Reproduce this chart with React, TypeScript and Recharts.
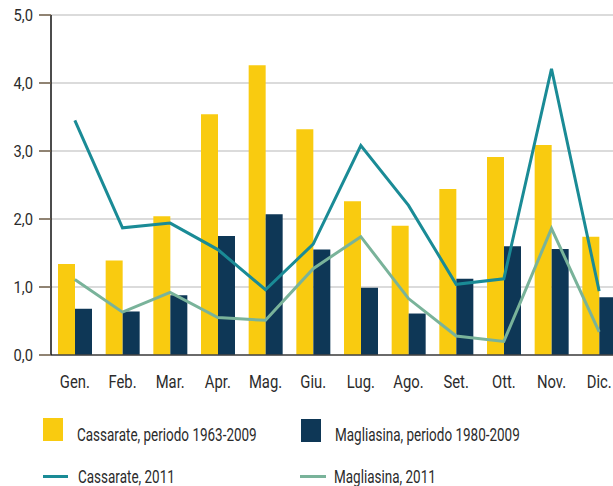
import React from "react";
import { ComposedChart, Bar, Line, XAxis, YAxis, CartesianGrid } from "recharts";

const months = ["Gen.", "Feb.", "Mar.", "Apr.", "Mag.", "Giu.", "Lug.", "Ago.", "Set.", "Ott.", "Nov.", "Dic."];
const cassarateAvg = [1.34, 1.39, 2.04, 3.54, 4.26, 3.32, 2.26, 1.9, 2.44, 2.91, 3.09, 1.74];
const magliasinaAvg = [0.68, 0.64, 0.88, 1.75, 2.07, 1.55, 0.99, 0.61, 1.12, 1.6, 1.56, 0.85];
const cassarate2011 = [3.45, 1.87, 1.94, 1.55, 0.96, 1.63, 3.08, 2.2, 1.04, 1.12, 4.21, 0.94];
const magliasina2011 = [1.11, 0.63, 0.92, 0.55, 0.51, 1.27, 1.74, 0.83, 0.28, 0.2, 1.86, 0.34];
const yTicks = [0, 1, 2, 3, 4, 5];
const yTickLabels = ["0,0", "1,0", "2,0", "3,0", "4,0", "5,0"];
const boundaryTicks = [1, 2, 3, 4, 5, 6, 7, 8, 9, 10, 11];

const seriesNames = {
  cAvg: "Cassarate, periodo 1963-2009",
  mAvg: "Magliasina, periodo 1980-2009",
  c11: "Cassarate, 2011",
  m11: "Magliasina, 2011",
};

const COLORS = {
  yellow: "#F9CB10",
  navy: "#0E3756",
  teal: "#1A8B96",
  green: "#79B39A",
};

const data = months.map((m, i) => ({
  month: m,
  cAvg: cassarateAvg[i],
  mAvg: magliasinaAvg[i],
  c11: cassarate2011[i],
  m11: magliasina2011[i],
}));

const FONT = 'Roboto, "DejaVu Sans Condensed", sans-serif';

const XTick = (props: any) => {
  const { x, y, payload } = props;
  return (
    <g transform={`translate(${x},${y})`}>
      <text
        transform="scale(0.8,1)"
        textAnchor="middle"
        dy="0.71em"
        fontFamily={FONT}
        fontSize={18.5}
        fill="#2b2b2b"
      >
        {payload.value}
      </text>
    </g>
  );
};

const YTick = (props: any) => {
  const { x, y, payload } = props;
  return (
    <g transform={`translate(${x},${y})`}>
      <text transform="scale(0.92,1)" textAnchor="end" dy="0.36em" fontFamily={FONT} fontSize={16} fill="#2b2b2b">
        {yTickLabels[yTicks.indexOf(payload.value)]}
      </text>
    </g>
  );
};

export default function App() {
  const legendText: React.CSSProperties = {
    position: "absolute",
    fontFamily: FONT,
    fontSize: 17.5,
    color: "#2b2b2b",
    lineHeight: "20px",
    whiteSpace: "nowrap",
    transform: "scaleX(0.77)",
    transformOrigin: "0 0",
  };
  return (
    <div style={{ position: "absolute", left: 0, top: 0, width: 613, height: 486, overflow: "hidden", background: "#fff" }}>
      <ComposedChart
        width={623}
        height={400}
        data={data}
        margin={{ top: 15, right: 0, bottom: 0, left: 0 }}
        barGap={0}
        barSize={17}
      >
        <CartesianGrid vertical={false} stroke="#cfcfcf" strokeWidth={1.5} />
        <XAxis
          xAxisId="b"
          type="number"
          domain={[0, 12]}
          ticks={boundaryTicks}
          height={0}
          axisLine={false}
          tick={false}
          tickSize={4}
          tickLine={{ stroke: "#555", strokeWidth: 1 }}
        />
        <XAxis
          dataKey="month"
          height={45}
          tickLine={false}
          axisLine={{ stroke: "#444", strokeWidth: 1.5 }}
          tick={<XTick />}
          tickMargin={14}
          interval={0}
        />
        <YAxis
          width={51}
          domain={[0, 5]}
          ticks={yTicks}
          axisLine={{ stroke: "#111", strokeWidth: 1.5 }}
          tickLine={{ stroke: "#6b5a45", strokeWidth: 1.5 }}
          tickSize={12}
          tickMargin={6}
          tick={<YTick />}
        />
        <Bar dataKey="cAvg" name={seriesNames.cAvg} fill={COLORS.yellow} isAnimationActive={false} />
        <Bar dataKey="mAvg" name={seriesNames.mAvg} fill={COLORS.navy} isAnimationActive={false} />
        <Line
          dataKey="c11"
          name={seriesNames.c11}
          stroke={COLORS.teal}
          strokeWidth={3}
          dot={false}
          type="linear"
          isAnimationActive={false}
        />
        <Line
          dataKey="m11"
          name={seriesNames.m11}
          stroke={COLORS.green}
          strokeWidth={3}
          dot={false}
          type="linear"
          isAnimationActive={false}
        />
      </ComposedChart>
      <div style={{ position: "absolute", left: 43, top: 418, width: 20, height: 23, background: COLORS.yellow }} />
      <div style={{ ...legendText, left: 77, top: 425 }}>{seriesNames.cAvg}</div>
      <div style={{ position: "absolute", left: 301, top: 419, width: 20, height: 23, background: COLORS.navy }} />
      <div style={{ ...legendText, left: 335, top: 425 }}>{seriesNames.mAvg}</div>
      <div style={{ position: "absolute", left: 43, top: 475, width: 25, height: 3, background: COLORS.teal }} />
      <div style={{ ...legendText, left: 78, top: 467 }}>{seriesNames.c11}</div>
      <div style={{ position: "absolute", left: 300, top: 475, width: 26, height: 3, background: COLORS.green }} />
      <div style={{ ...legendText, left: 334, top: 467 }}>{seriesNames.m11}</div>
    </div>
  );
}
